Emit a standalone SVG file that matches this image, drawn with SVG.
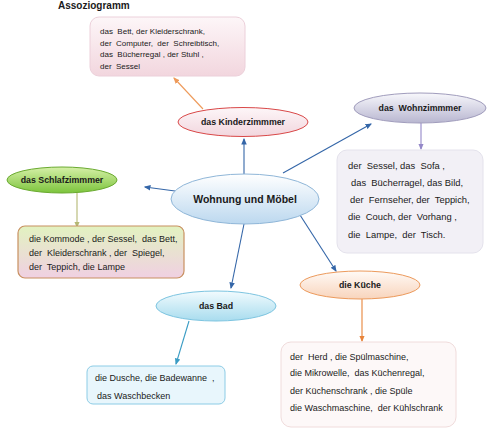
<svg xmlns="http://www.w3.org/2000/svg" width="500" height="428" viewBox="0 0 500 428" xml:space="preserve">
<defs>
<style>
text{font-family:"Liberation Sans",Arial,sans-serif;fill:#1a1a1a;white-space:pre}
.t{font-size:9px}
.k{font-size:8px}
.w{font-size:9.4px}
.b{font-size:8.8px;font-weight:bold;text-anchor:middle}
.c{stroke-width:1.1;fill:none}
</style>
<linearGradient id="gKz" x1="0" y1="0" x2="0" y2="1"><stop offset="0" stop-color="#fdf6f8"/><stop offset="1" stop-color="#f2d6de"/></linearGradient>
<linearGradient id="gCen" x1="0" y1="0" x2="0" y2="1"><stop offset="0" stop-color="#ffffff"/><stop offset="1" stop-color="#bcd8ef"/></linearGradient>
<linearGradient id="gWz" x1="0" y1="0" x2="0" y2="1"><stop offset="0" stop-color="#f8f8fc"/><stop offset="1" stop-color="#b8b6d0"/></linearGradient>
<linearGradient id="gSz" x1="0" y1="0" x2="0" y2="1"><stop offset="0" stop-color="#d6f0a8"/><stop offset="1" stop-color="#7cc43c"/></linearGradient>
<linearGradient id="gSzB" x1="0" y1="0" x2="0" y2="1"><stop offset="0" stop-color="#e2f2c0"/><stop offset="1" stop-color="#f0d0e2"/></linearGradient>
<linearGradient id="gBad" x1="0" y1="0" x2="0" y2="1"><stop offset="0" stop-color="#f2fbfe"/><stop offset="1" stop-color="#a8dcee"/></linearGradient>
<linearGradient id="gKu" x1="0" y1="0" x2="0" y2="1"><stop offset="0" stop-color="#fffaf6"/><stop offset="1" stop-color="#f8d4bc"/></linearGradient>
<marker id="aBlue" markerWidth="6" markerHeight="6" refX="5" refY="3" orient="auto"><path d="M0,0.5 L6,3 L0,5.5 Z" fill="#3466a8"/></marker>
<marker id="aOr" markerWidth="6" markerHeight="6" refX="5" refY="3" orient="auto"><path d="M0,0.5 L6,3 L0,5.5 Z" fill="#ee9a5a"/></marker>
<marker id="aLav" markerWidth="6" markerHeight="6" refX="5" refY="3" orient="auto"><path d="M0,0.5 L6,3 L0,5.5 Z" fill="#9488c8"/></marker>
<marker id="aOl" markerWidth="6" markerHeight="6" refX="5" refY="3" orient="auto"><path d="M0,0.5 L6,3 L0,5.5 Z" fill="#b4b874"/></marker>
<marker id="aTeal" markerWidth="6" markerHeight="6" refX="5" refY="3" orient="auto"><path d="M0,0.5 L6,3 L0,5.5 Z" fill="#3a9cc4"/></marker>
<marker id="aKu" markerWidth="6" markerHeight="6" refX="5" refY="3" orient="auto"><path d="M0,0.5 L6,3 L0,5.5 Z" fill="#e8843a"/></marker>
</defs>
<rect width="500" height="428" fill="#ffffff"/>
<text x="58" y="9" style="font-size:10px;font-weight:bold">Assoziogramm</text>

<g id="connectors">
<line class="c" x1="244" y1="174" x2="244" y2="139" stroke="#3466a8" marker-end="url(#aBlue)"/>
<line class="c" x1="203" y1="109" x2="174" y2="78" stroke="#ee9a5a" marker-end="url(#aOr)"/>
<line class="c" x1="283" y1="173" x2="371" y2="124" stroke="#3466a8" marker-end="url(#aBlue)"/>
<line class="c" x1="421" y1="123" x2="421" y2="149" stroke="#9488c8" marker-end="url(#aLav)"/>
<line class="c" x1="175" y1="191" x2="145" y2="187" stroke="#3466a8" marker-end="url(#aBlue)"/>
<line class="c" x1="77" y1="193" x2="77" y2="227" stroke="#b4b874" marker-end="url(#aOl)"/>
<line class="c" x1="244" y1="224" x2="231" y2="288" stroke="#3466a8" marker-end="url(#aBlue)"/>
<line class="c" x1="189" y1="321" x2="176" y2="364" stroke="#3a9cc4" marker-end="url(#aTeal)"/>
<line class="c" x1="300" y1="215" x2="336" y2="271" stroke="#3466a8" marker-end="url(#aBlue)"/>
<line class="c" x1="362" y1="299" x2="362" y2="341" stroke="#e8843a" marker-end="url(#aKu)"/>
</g>

<g id="kinderzimmer-box">
<rect x="90" y="17" width="155" height="59" rx="9" fill="url(#gKz)" stroke="#ecd0da" stroke-width="1"/>
<text class="k" x="100" y="34">das  Bett, der Kleiderschrank,</text>
<text class="k" x="100" y="46">der  Computer,  der  Schreibtisch,</text>
<text class="k" x="100" y="57">das  Bücherregal , der Stuhl ,</text>
<text class="k" x="100" y="69">der  Sessel</text>
</g>

<g id="kinderzimmer">
<ellipse cx="243" cy="122" rx="65" ry="14.5" fill="url(#gKz)" stroke="#d94848" stroke-width="1"/>
<text class="b" x="243" y="125">das Kinderzimmmer</text>
</g>

<g id="zentrum">
<ellipse cx="245" cy="199" rx="74" ry="25" fill="url(#gCen)" stroke="#8fb6d8" stroke-width="1"/>
<text class="b" x="245" y="203" style="font-size:10.5px">Wohnung und Möbel</text>
</g>

<g id="wohnzimmer">
<ellipse cx="420" cy="108" rx="66" ry="15" fill="url(#gWz)" stroke="#a09cbc" stroke-width="1"/>
<text class="b" x="420" y="111">das  Wohnzimmmer</text>
</g>

<g id="wohnzimmer-box">
<rect x="337" y="150" width="146" height="103" rx="10" fill="#f2f0f6" stroke="#e4e2ec" stroke-width="1"/>
<text class="w" x="348" y="169">der  Sessel, das  Sofa ,</text>
<text class="w" x="351" y="186">das  Bücherragel, das Bild,</text>
<text class="w" x="350" y="203">der  Fernseher, der  Teppich,</text>
<text class="w" x="348" y="220">die  Couch, der  Vorhang ,</text>
<text class="w" x="348" y="238">die  Lampe,  der  Tisch.</text>
</g>

<g id="schlafzimmer">
<ellipse cx="62" cy="180" rx="55" ry="13" fill="url(#gSz)" stroke="#6aaa30" stroke-width="1"/>
<text class="b" x="62" y="183">das Schlafzimmmer</text>
</g>

<g id="schlafzimmer-box">
<rect x="18" y="226" width="166" height="52" rx="7" fill="url(#gSzB)" stroke="#c89060" stroke-width="1.2"/>
<text class="t" x="29" y="242">die Kommode , der Sessel,  das Bett,</text>
<text class="t" x="29" y="256">der  Kleiderschrank , der  Spiegel,</text>
<text class="t" x="29" y="270">der  Teppich, die Lampe</text>
</g>

<g id="bad">
<ellipse cx="216" cy="306" rx="60" ry="15" fill="url(#gBad)" stroke="#7cc4e0" stroke-width="1"/>
<text class="b" x="216" y="309">das Bad</text>
</g>

<g id="bad-box">
<rect x="87" y="366" width="138" height="38" rx="6" fill="#e8f6fc" stroke="#8ccce6" stroke-width="1"/>
<text class="t" x="95" y="381">die Dusche, die Badewanne  ,</text>
<text class="t" x="97" y="399">das Waschbecken</text>
</g>

<g id="kueche">
<ellipse cx="360" cy="285" rx="60" ry="14" fill="url(#gKu)" stroke="#ec9a5c" stroke-width="1"/>
<text class="b" x="360" y="288">die Küche</text>
</g>

<g id="kueche-box">
<rect x="281" y="342" width="175" height="85" rx="10" fill="#fdf8f8" stroke="#f0dcdc" stroke-width="1"/>
<text class="t" x="290" y="360">der  Herd , die Spülmaschine,</text>
<text class="t" x="290" y="376">die Mikrowelle,  das Küchenregal,</text>
<text class="t" x="290" y="394">der Küchenschrank , die Spüle</text>
<text class="t" x="290" y="411">die Waschmaschine,  der Kühlschrank</text>
</g>
</svg>
